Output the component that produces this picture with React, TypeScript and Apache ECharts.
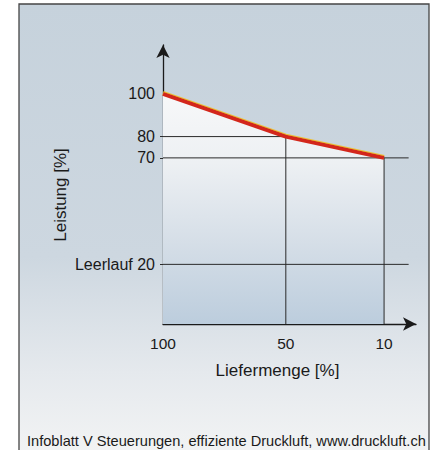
import React, { useEffect, useRef } from "react";
import * as echarts from "echarts";

// Data
const lieferung = [100, 50, 10]; // Liefermenge [%]
const leistung = [100, 80, 70]; // Leistung [%]
const leerlauf = 20; // Leerlauf [%]
const xTickValues = [100, 50, 10];
const yTickValues = [100, 80, 70, 20];
const guideLevels = [80, 70, 20];
const guideEnds = [50, 0, 0];
const footer = "Infoblatt V Steuerungen, effiziente Druckluft, www.druckluft.ch";

const FONT = "'Liberation Sans', Arial, Helvetica, sans-serif";
const Y_MIN = -8;
const Y_MAX = 123;
const X_MIN = -3;
const X_MAX = 100;

export default function App() {
  const ref = useRef<HTMLDivElement>(null);
  useEffect(() => {
    if (!ref.current) return;
    const chart = echarts.init(ref.current, undefined, { renderer: "svg" });

    const curve = lieferung.map((x, i) => [x, leistung[i]]);
    const guideSeries: any[] = [];
    guideLevels.forEach((lvl, i) => {
      guideSeries.push({
        type: "line",
        data: [
          [X_MAX, lvl],
          [guideEnds[i], lvl],
        ],
        symbol: "none",
        silent: true,
        z: 2,
        lineStyle: { color: "#2a2a2a", width: 1 },
      });
    });
    lieferung.slice(1).forEach((x, i) => {
      guideSeries.push({
        type: "line",
        data: [
          [x, leistung[i + 1]],
          [x, Y_MIN],
        ],
        symbol: "none",
        silent: true,
        z: 2,
        lineStyle: { color: "#2a2a2a", width: 1 },
      });
    });

    chart.setOption({
      animation: false,
      backgroundColor: "#ffffff",
      grid: {
        left: 163,
        right: 21,
        top: 45,
        bottom: 126,
        containLabel: false,
        outerBoundsMode: "none",
      },
      xAxis: {
        type: "value",
        inverse: true,
        min: X_MIN,
        max: X_MAX,
        name: "Liefermenge [%]",
        nameLocation: "middle",
        nameGap: 38,
        nameTextStyle: {
          fontFamily: FONT,
          fontSize: 17,
          color: "#1a1a1a",
          padding: [0, 24, 0, 0],
        },
        axisLine: {
          onZero: false,
          symbol: ["none", "arrow"],
          symbolSize: [10, 13],
          lineStyle: { color: "#1a1a1a", width: 1.3 },
        },
        axisTick: { show: false },
        splitLine: { show: false },
        axisLabel: {
          customValues: xTickValues,
          margin: 11,
          fontFamily: FONT,
          fontSize: 15.5,
          color: "#1a1a1a",
        },
      },
      yAxis: {
        type: "value",
        min: Y_MIN,
        max: Y_MAX,
        axisLine: {
          show: true,
          onZero: false,
          symbol: ["none", "arrow"],
          symbolSize: [10, 13],
          lineStyle: { color: "#1a1a1a", width: 1.3 },
        },
        axisTick: {
          show: true,
          customValues: guideLevels,
          length: 3,
          lineStyle: { color: "#2a2a2a", width: 1 },
        },
        splitLine: { show: false },
        axisLabel: {
          customValues: yTickValues,
          margin: 8,
          fontFamily: FONT,
          fontSize: 16,
          color: "#1a1a1a",
          formatter: (v: number) => (v === leerlauf ? "Leerlauf " + v : String(v)),
        },
      },
      graphic: [
        {
          type: "rect",
          z: -10,
          silent: true,
          shape: { x: 19, y: 4, width: 410, height: 460 },
          style: {
            fill: new echarts.graphic.LinearGradient(0, 0, 0, 1, [
              { offset: 0, color: "#c6d2dc" },
              { offset: 0.55, color: "#cdd7e0" },
              { offset: 0.8, color: "#e5e9ed" },
              { offset: 1, color: "#f4f5f5" },
            ]),
            stroke: "#454545",
            lineWidth: 1.3,
          },
        },
        {
          type: "text",
          x: 60,
          y: 195,
          rotation: Math.PI / 2,
          style: {
            text: "Leistung [%]",
            fontFamily: FONT,
            fontSize: 17,
            fill: "#1a1a1a",
            align: "center",
            verticalAlign: "middle",
          },
        },
        {
          type: "text",
          x: 27,
          y: 441,
          style: {
            text: footer,
            fontFamily: FONT,
            fontSize: 14.6,
            fill: "#1a1a1a",
            align: "left",
            verticalAlign: "middle",
          },
        },
      ],
      series: [
        {
          type: "line",
          data: curve,
          symbol: "none",
          silent: true,
          z: 1,
          lineStyle: { width: 0, opacity: 0 },
          areaStyle: {
            origin: "start",
            opacity: 1,
            color: new echarts.graphic.LinearGradient(0, 0, 0, 1, [
              { offset: 0, color: "#f7f8f9" },
              { offset: 0.3, color: "#edf0f3" },
              { offset: 0.65, color: "#d5dee7" },
              { offset: 1, color: "#bccddd" },
            ]),
          },
        },
        ...guideSeries,
        {
          type: "line",
          data: curve,
          symbol: "none",
          silent: true,
          z: 3,
          lineStyle: {
            color: "#d3281b",
            width: 4,
            shadowColor: "rgba(240,190,40,0.9)",
            shadowOffsetY: -1,
            shadowBlur: 0,
          },
        },
      ],
    });
    return () => chart.dispose();
  }, []);
  return (
    <div
      ref={ref}
      style={{ position: "fixed", left: 0, top: 0, width: 437, height: 450 }}
    />
  );
}
